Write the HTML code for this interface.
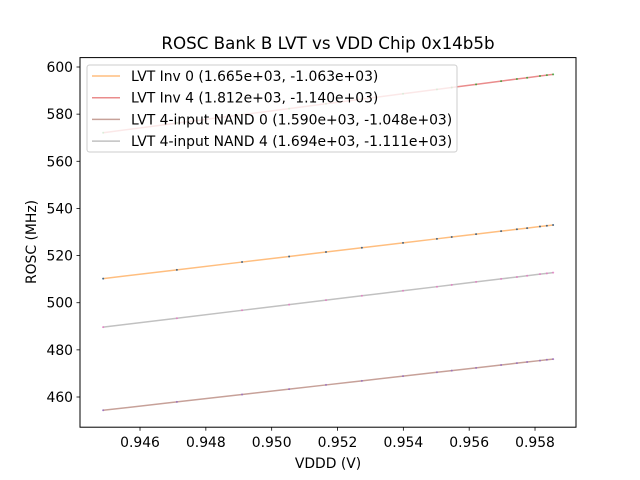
<!DOCTYPE html>
<html><head><meta charset="utf-8"><style>
body{margin:0;background:#fff}
svg{display:block;font-family:"DejaVu Sans","Liberation Sans",sans-serif}
</style></head><body>
<svg id="chart" width="640" height="480" viewBox="0 0 640 480">
<rect width="640" height="480" fill="#fff"/>
<text x="328" y="49" font-size="16.7" text-anchor="middle">ROSC Bank B LVT vs VDD Chip 0x14b5b</text>
<text x="328" y="468" font-size="13.9" text-anchor="middle">VDDD (V)</text>
<text x="36" y="242" font-size="13.9" text-anchor="middle" transform="rotate(-90 36 242)">ROSC (MHz)</text>
<g id="plot"></g>
<rect x="80" y="57.6" width="496" height="369.6" fill="none" stroke="#000" stroke-width="1"/>
<g id="legend"></g>
</svg>
<script>
const vdd = [0.94488,0.94712,0.9491,0.95053,0.95165,0.95274,0.95399,0.95502,0.95547,0.95621,0.95697,0.95745,0.95776,0.95815,0.95836,0.95855];
const inv0 = [510.23,513.95,517.25,519.63,521.50,523.31,525.39,527.11,527.86,529.09,530.35,531.15,531.67,532.32,532.67,532.99];
const inv4 = [572.12,576.18,579.77,582.36,584.39,586.36,588.63,590.50,591.31,592.65,594.03,594.90,595.46,596.17,596.55,596.89];
const nand0 = [454.36,457.92,461.07,463.34,465.12,466.86,468.84,470.48,471.20,472.37,473.58,474.35,474.84,475.46,475.79,476.09];
const nand4 = [489.63,493.42,496.78,499.20,501.10,502.94,505.06,506.80,507.57,508.82,510.11,510.92,511.45,512.11,512.46,512.78];
const seriesNames = ["LVT Inv 0 (1.665e+03, -1.063e+03)","LVT Inv 4 (1.812e+03, -1.140e+03)","LVT 4-input NAND 0 (1.590e+03, -1.048e+03)","LVT 4-input NAND 4 (1.694e+03, -1.111e+03)"];
const xTicks = [0.946,0.948,0.950,0.952,0.954,0.956,0.958];
const yTicks = [460,480,500,520,540,560,580,600];

const X0=80,X1=576,Y0=427.2,Y1=57.6;
const xMin=0.944177,xMax=0.959245,yMin=447.19,yMax=603.99;
const sx=v=>X0+(v-xMin)/(xMax-xMin)*(X1-X0);
const sy=v=>Y0-(v-yMin)/(yMax-yMin)*(Y0-Y1);
const NS="http://www.w3.org/2000/svg";
const svg=document.getElementById('chart');
const plot=document.getElementById('plot');
function mk(tag,attrs,parent){const e=document.createElementNS(NS,tag);for(const k in attrs)e.setAttribute(k,attrs[k]);(parent||svg).appendChild(e);return e;}

xTicks.forEach(t=>{
  const x=sx(t);
  const l=mk('line',{x1:x,x2:x,y1:Y0,y2:Y0+3.5,stroke:'#000','stroke-width':0.8});
  
  
  const tx=mk('text',{x:x,y:Y0+20,'font-size':13.9,'text-anchor':'middle'});
  tx.textContent=t.toFixed(3);
  
  
});
yTicks.forEach(t=>{
  const y=sy(t);
  const l=mk('line',{x1:X0-3.5,x2:X0,y1:y,y2:y,stroke:'#000','stroke-width':0.8});
  
  
  const tx=mk('text',{x:X0-7,y:y+5,'font-size':13.9,'text-anchor':'end'});
  tx.textContent=String(t);
  
  
});

const allSeries=[inv0,inv4,nand0,nand4];
const lineColors=['rgba(255,187,120,0.95)','rgba(232,128,128,0.9)','rgba(196,156,148,0.95)','rgba(190,190,190,0.95)'];
const dotColors=['#1f4e79','#2ca02c','#9467bd','#e377c2'];
const slugs=['inv0','inv4','nand0','nand4'];
allSeries.forEach((ser,i)=>{
  const pts=ser.map((v,j)=>sx(vdd[j])+','+sy(v)).join(' ');
  const pl=mk('polyline',{points:pts,fill:'none',stroke:lineColors[i],'stroke-width':1.5},plot);
  
  
  ser.forEach((v,j)=>{
    const c=mk('circle',{cx:sx(vdd[j]),cy:sy(v),r:1,fill:dotColors[i],opacity:0.8},plot);
    
    
  });
});

const lg=document.getElementById('legend');
const box=mk('rect',{x:87,y:65,width:370,height:87,rx:2.5,fill:'rgba(255,255,255,0.8)',stroke:'#ccc','stroke-width':1},lg);


seriesNames.forEach((n,i)=>{
  const y=76+i*21.7;
  const l=mk('line',{x1:92,x2:120,y1:y,y2:y,stroke:lineColors[i],'stroke-width':1.5},lg);
  
  
  const t=mk('text',{x:131,y:y+5,'font-size':13.9},lg);
  t.textContent=n;
  
  
});
</script>
</body></html>
